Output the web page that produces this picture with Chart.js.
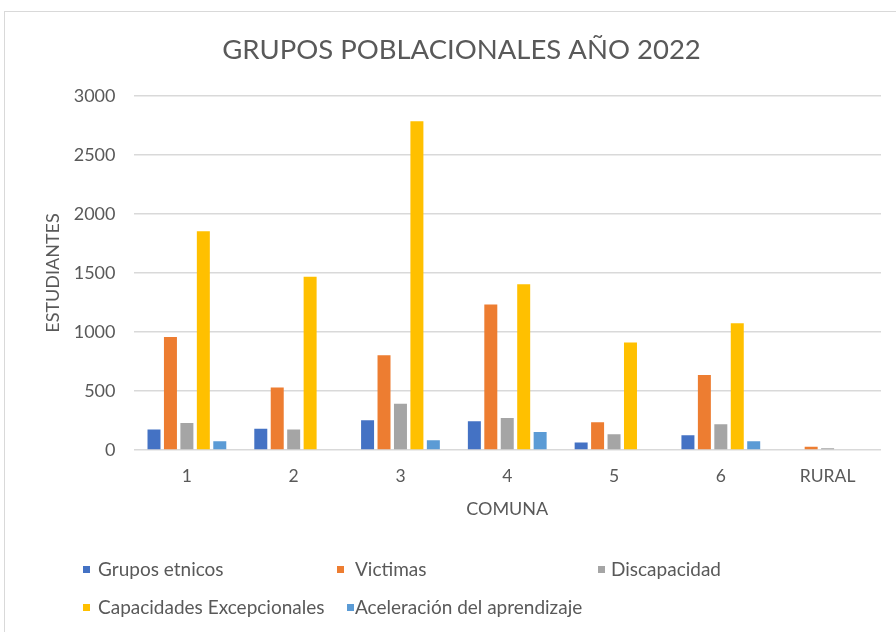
<!DOCTYPE html>
<html lang="es">
<head>
  <meta charset="UTF-8">
  <title>Grupos poblacionales año 2022</title>
  <script src="https://cdn.jsdelivr.net/npm/chart.js"></script>
  <style>
    body {
      margin: 0;
      background: #fff;
      font-family: 'Lato', sans-serif;
    }
    .page {
      position: relative;
      width: 896px;
      height: 632px;
      overflow: hidden;
    }
    .frame {
      position: absolute;
      left: 4px;
      top: 11px;
      width: 900px;
      height: 640px;
      border: 1.5px solid #d9d9d9;
      box-sizing: border-box;
    }
    .chart-box {
      position: absolute;
      left: 0;
      top: 0;
      width: 896px;
      height: 632px;
    }
    .legend-item {
      position: absolute;
      font-size: 19px;
      color: #595959;
      white-space: nowrap;
      line-height: 22px;
    }
    .legend-item span.box {
      position: absolute;
      width: 7px;
      height: 7px;
      top: 8px;
    }
  </style>
</head>
<body>
  <div class="page">
    <div class="frame"></div>
    <div class="chart-box">
      <canvas id="barChart"></canvas>
    </div>
    <div id="legend"></div>
  </div>

  <script>
    // data
    const comunas = ['1', '2', '3', '4', '5', '6', 'RURAL'];
    const seriesNames = ['Grupos etnicos', 'Victimas', 'Discapacidad', 'Capacidades Excepcionales', 'Aceleración del aprendizaje'];
    const gruposEtnicos = [173, 181, 252, 243, 63, 125, 0];
    const victimas = [958, 529, 802, 1232, 235, 636, 28];
    const discapacidad = [229, 173, 393, 271, 133, 218, 14];
    const capacidades = [1853, 1469, 2786, 1404, 910, 1074, 0];
    const aceleracion = [74, 0, 82, 153, 0, 74, 0];
    const yTicks = [0, 500, 1000, 1500, 2000, 2500, 3000];

    const colors = ['#4472C4', '#ED7D31', '#A5A5A5', '#FFC000', '#5B9BD5'];
    const values = [gruposEtnicos, victimas, discapacidad, capacidades, aceleracion];
    const textColor = '#595959';

    const datasets = seriesNames.map((name, i) => ({
      label: name,
      data: values[i],
      backgroundColor: colors[i],
      borderWidth: 0,
      categoryPercentage: 0.77,
      barPercentage: 0.79
    }));

    const ctx = document.getElementById('barChart').getContext('2d');

    new Chart(ctx, {
      type: 'bar',
      data: {
        labels: comunas,
        datasets: datasets
      },
      options: {
        responsive: true,
        maintainAspectRatio: false,
        animation: false,
        layout: {
          padding: { top: 29, left: 42, right: 15, bottom: 112 }
        },
        plugins: {
          legend: { display: false },
          tooltip: { enabled: false },
          title: {
            display: true,
            text: 'GRUPOS POBLACIONALES AÑO 2022',
            color: textColor,
            font: { family: 'Lato', size: 27.5, weight: 'normal' },
            padding: { top: 5, bottom: 29 }
          }
        },
        scales: {
          x: {
            grid: { display: false, drawTicks: false },
            border: { display: false },
            ticks: {
              color: textColor,
              padding: 16,
              font: { family: 'Lato', size: 17.5 }
            },
            title: {
              display: true,
              text: 'COMUNA',
              color: textColor,
              padding: 0,
              font: { family: 'Lato', size: 18 }
            },
            afterFit: scale => { scale.height = 70; }
          },
          y: {
            min: 0,
            max: 3000,
            grid: { color: '#d9d9d9', lineWidth: 1.5, drawTicks: false },
            border: { display: false },
            afterBuildTicks: scale => {
              scale.ticks = yTicks.map(v => ({ value: v }));
            },
            ticks: {
              color: textColor,
              padding: 18,
              font: { family: 'Lato', size: 18 },
              callback: v => String(v)
            },
            title: {
              display: true,
              text: 'ESTUDIANTES',
              color: textColor,
              padding: 0,
              font: { family: 'Lato', size: 18 }
            },
            afterFit: scale => { scale.width = 91.5; }
          }
        }
      }
    });

    // Excel-style legend laid out in a grid of columns
    const legendSpots = [
      { box: 83, text: 98, y: 558 },
      { box: 337, text: 355, y: 558 },
      { box: 598, text: 611, y: 558 },
      { box: 83, text: 98, y: 596 },
      { box: 347, text: 355, y: 596 }
    ];
    const legend = document.getElementById('legend');
    seriesNames.forEach((name, i) => {
      const spot = legendSpots[i];
      const item = document.createElement('div');
      item.className = 'legend-item';
      item.style.left = spot.box + 'px';
      item.style.top = spot.y + 'px';
      item.style.paddingLeft = (spot.text - spot.box) + 'px';
      const box = document.createElement('span');
      box.className = 'box';
      box.style.left = '0px';
      box.style.background = colors[i];
      item.appendChild(box);
      item.appendChild(document.createTextNode(name));
      legend.appendChild(item);
    });
  </script>
</body>
</html>
